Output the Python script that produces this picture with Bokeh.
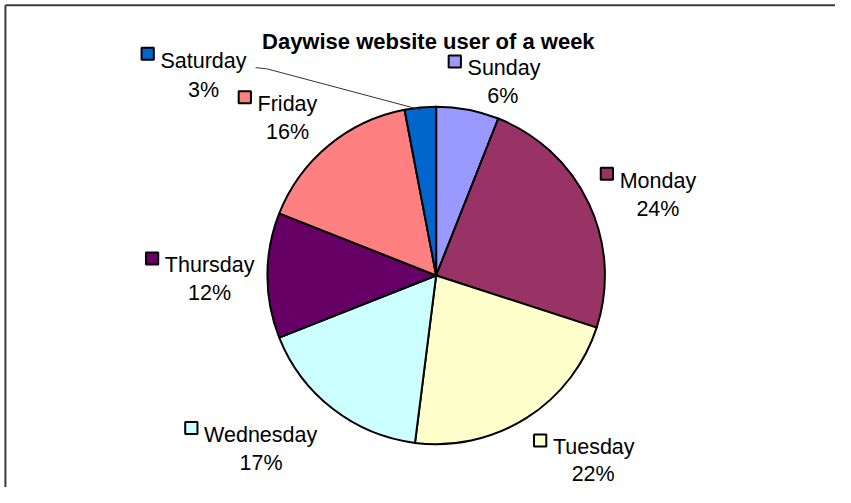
import math
from bokeh.plotting import figure
from bokeh.models import Range1d, ColumnDataSource
from bokeh.core.properties import value
from bokeh.embed import file_html
from bokeh.resources import INLINE

# ---- data ----
title_text = "Daywise website user of a week"
days = ["Sunday", "Monday", "Tuesday", "Wednesday", "Thursday", "Friday", "Saturday"]
shares = [6, 24, 22, 17, 12, 16, 3]
colors = ["#9999FF", "#993366", "#FFFFCC", "#CCFFFF", "#660066", "#FF8080", "#0066CC"]

# ---- layout: data space = reference pixel space (851 x 503), y flipped ----
W, H = 835, 487
REF_W, REF_H = 851, 503
def Y(py):
    return REF_H - py

CX, CY, R = 444, 284, 172
# label anchors: name left x, name baseline y, pct center x, pct baseline y
label_pos = {
    "Sunday":    (476, 70, 512, 99),
    "Monday":    (631, 186, 670, 215),
    "Tuesday":   (563, 461.5, 604, 489),
    "Wednesday": (207.5, 448.5, 265.5, 477.5),
    "Thursday":  (167.5, 273.5, 213, 302.5),
    "Friday":    (262, 107, 292.5, 135.5),
    "Saturday":  (163, 62, 207, 92),
}

p = figure(width=W, height=H, output_backend="svg", toolbar_location=None,
           x_range=Range1d(0, REF_W), y_range=Range1d(0, REF_H),
           x_axis_location=None, y_axis_location=None, min_border=0,
           background_fill_color="white", border_fill_color="white")
p.grid.visible = False
p.outline_line_color = None

# chart area border (top and left edges)
p.line([5, REF_W], [Y(5), Y(5)], line_color="#3a3a3a", line_width=2)
p.line([5, 5], [Y(5), Y(REF_H)], line_color="#3a3a3a", line_width=2)

# pie wedges (clockwise from 12 o'clock)
total = float(sum(shares))
starts, ends, mids = [], [], []
cum = 0.0
for s in shares:
    a_start = cum / total
    cum += s
    a_end = cum / total
    starts.append(math.pi / 2 - 2 * math.pi * a_end)
    ends.append(math.pi / 2 - 2 * math.pi * a_start)
    mids.append(math.pi / 2 - 2 * math.pi * (a_start + a_end) / 2)

src = ColumnDataSource(dict(x=[CX] * len(days), y=[Y(CY)] * len(days),
                            start=starts, end=ends, color=colors))
p.wedge(x="x", y="y", radius=R, start_angle="start", end_angle="end",
        direction="anticlock", fill_color="color", line_color="black",
        line_width=2, source=src)

# leader line for Saturday
i_sat = days.index("Saturday")
ex = CX + R * math.cos(mids[i_sat])
ey = Y(CY) + R * math.sin(mids[i_sat])
p.line([260, 272, ex], [Y(69.3), Y(70.7), ey], line_color="#333333", line_width=1)

# labels
font = value("Liberation Sans")
name_x, name_y, pct_x, pct_y, box_x, box_y, pct_txt = [], [], [], [], [], [], []
for d, s in zip(days, shares):
    lx, ly, px, py = label_pos[d]
    name_x.append(lx); name_y.append(Y(ly))
    pct_x.append(px); pct_y.append(Y(py))
    box_x.append(lx - 6 - 7); box_y.append(Y(ly - 7))
    pct_txt.append(f"{round(100 * s / total)}%")

p.rect(x=box_x, y=box_y, width=12.5, height=12.5, fill_color=colors,
       line_color="black", line_width=2)
p.text(x=name_x, y=name_y, text=days, text_font=font, text_font_size="21.5px",
       text_align="left", text_baseline="alphabetic", text_color="black")
p.text(x=pct_x, y=pct_y, text=pct_txt, text_font=font, text_font_size="21.5px",
       text_align="center", text_baseline="alphabetic", text_color="black")

# title
p.text(x=[436], y=[Y(42.3)], text=[title_text], text_font=font,
       text_font_size="22px", text_font_style="bold", text_align="center",
       text_baseline="alphabetic", text_color="black")

open("out.html", "w").write(file_html(p, INLINE))
